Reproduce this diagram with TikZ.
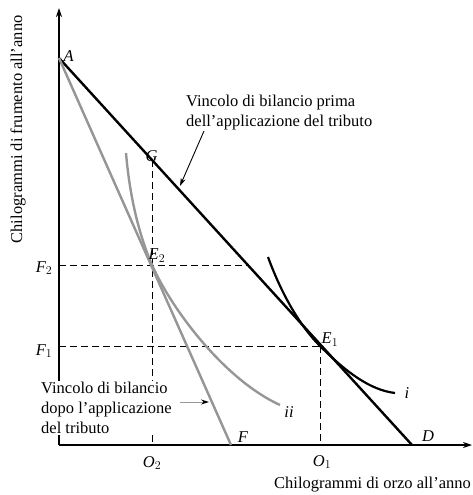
\documentclass[tikz,border=0pt]{standalone}
\usepackage{fontspec}
\setmainfont{Liberation Serif}
\usetikzlibrary{arrows.meta, positioning}
\definecolor{taxgrey}{RGB}{150,150,150}

\begin{document}
\begin{tikzpicture}[x=1pt, y=-1pt, font=\fontsize{16.5}{20}\selectfont,
    axis/.style={line width=1.3pt, -{Stealth[length=9pt, width=6pt]}},
    budget/.style={line width=2.4pt, line cap=round},
    taxed/.style={line width=2.4pt, taxgrey},
    guide/.style={line width=1pt, dash pattern=on 7pt off 4pt},
    pt/.style={font=\fontsize{16.5}{20}\selectfont\itshape, inner sep=0.5pt},
    note/.style={align=left, fill=white, inner sep=1pt}]
    \useasboundingbox (0,0) rectangle (473,495);

    % points
    \coordinate (O) at (59,445);
    \coordinate (A) at (59,58);
    \coordinate (D) at (412,445);
    \coordinate (F) at (231,445);
    \coordinate (G) at (152,160);
    \coordinate (E2) at (152,265);
    \coordinate (E1) at (320,346);
    \coordinate (F2) at (59,265);
    \coordinate (F1) at (59,346);
    \coordinate (O2) at (152,445);
    \coordinate (O1) at (320,445);
    \coordinate (K2) at (247,265);

    % axes
    \coordinate (ytop) at (59,8);
    \coordinate (xend) at (472,445);
    \draw[axis] (O) -- (ytop);
    \draw[axis] (O) -- (xend);

    % dashed guides
    \draw[guide] (F2) -- (K2);
    \draw[guide] (F1) -- (E1);
    \draw[guide] (G) -- (O2);
    \draw[guide] (E1) -- (O1);

    % budget lines
    \draw[budget] (A) -- (D);
    \draw[taxed] (A) -- (F);

    % indifference curves
    \draw[taxed] (126,153) .. controls (130,200) and (140,237) .. (E2)
        .. controls (172,310) and (225,380) .. (280,405);
    \draw[line width=2.2pt] (268,257) .. controls (280,290) and (298,324) .. (E1)
        .. controls (346,372) and (370,390) .. (395,393);

    % labels
    \node[pt, anchor=west] (lA) at (63,56) {A};
    \node[pt, anchor=south west] (lG) at (145,162) {G};
    \node[pt, anchor=south west] (lE2) at (148,263) {E$_2$};
    \node[pt, anchor=south west] (lE1) at (321,347) {E$_1$};
    \node[pt, anchor=east] (lF2) at (53,268) {F$_2$};
    \node[pt, anchor=east] (lF1) at (53,351) {F$_1$};
    \node[pt] (lO2) at (152,463) {O$_2$};
    \node[pt] (lO1) at (322,462) {O$_1$};
    \node[pt] (lF) at (243,437) {F};
    \node[pt] (lD) at (428,436) {D};
    \node[pt] (li) at (407,393) {i};
    \node[pt] (lii) at (289,412) {ii};

    % captions
    \node[note, anchor=north west] (before) at (185,94)
        {Vincolo di bilancio prima\\dell'applicazione del tributo};
    \node[note, anchor=north west] (after) at (40,381)
        {Vincolo di bilancio\\dopo l'applicazione\\del tributo};
    \coordinate (beforetip) at (180,186);
    \coordinate (aftertip) at (209,402);
    \draw[line width=0.9pt, -{Stealth[length=8pt, width=5pt]}] (204,131) -- (beforetip);
    \draw[line width=0.9pt, taxgrey, -{Stealth[length=8pt, width=5pt, black]}] (180,402) -- (aftertip);

    % axis titles
    \node[rotate=90, anchor=east] (ytitle) at (18,12) {Chilogrammi di frumento all'anno};
    \node[anchor=east, inner sep=1pt] (xtitle) at (472,485) {Chilogrammi di orzo all'anno};
\end{tikzpicture}
\end{document}
